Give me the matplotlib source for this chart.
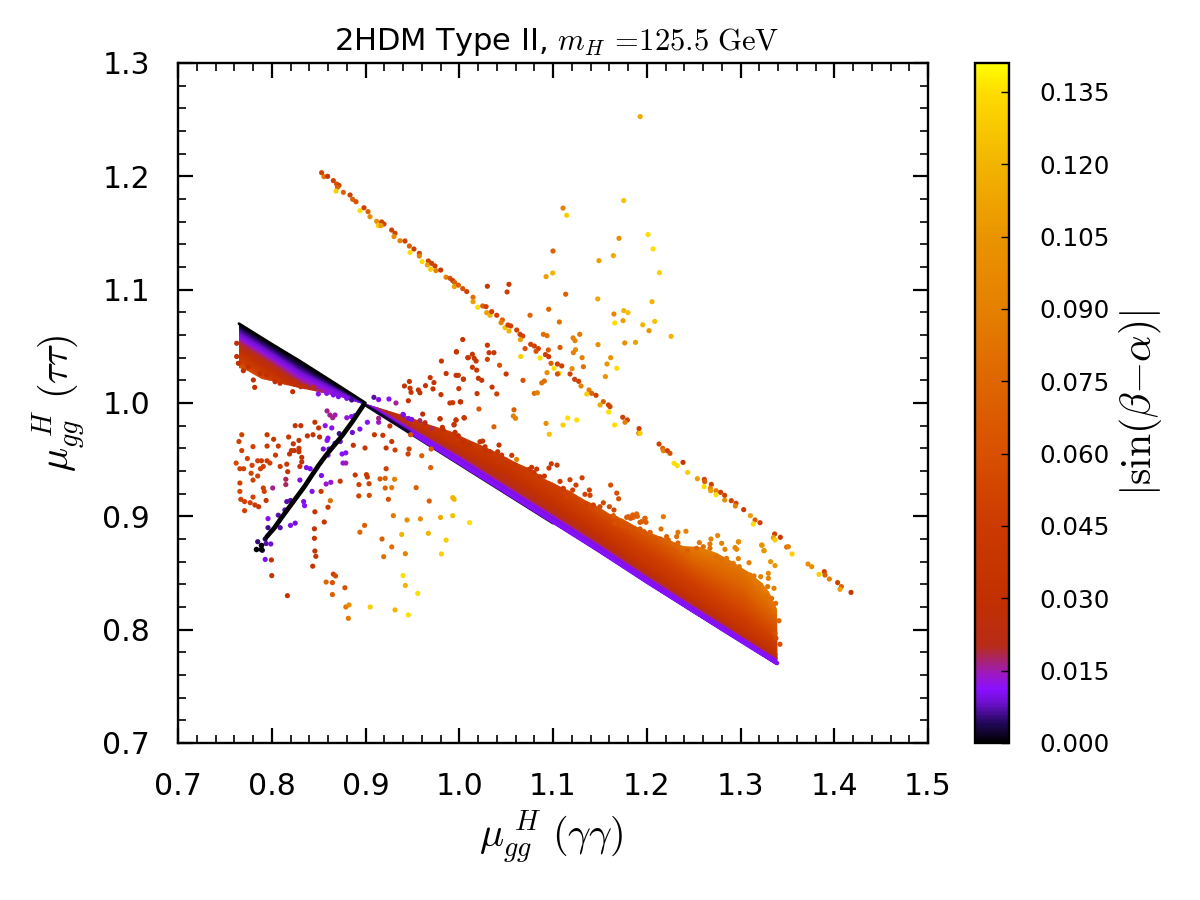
import numpy as np
import matplotlib
matplotlib.use("Agg")
import matplotlib.pyplot as plt
from matplotlib.colors import LinearSegmentedColormap, Normalize
from matplotlib.cm import ScalarMappable
from matplotlib.patches import Polygon
from matplotlib.ticker import MultipleLocator, FormatStrFormatter

plt.rcParams['mathtext.fontset'] = 'cm'

# colour scale of |sin(beta-alpha)|
s_max = 0.141
cmap_nodes = [0.0, 0.004, 0.008, 0.011, 0.014, 0.017, 0.02, 0.03, 0.045, 0.06,
              0.075, 0.09, 0.105, 0.12, 0.135, 0.141]
cmap_colors = ['#000000', '#22085a', '#6a10c8', '#8810ff', '#9c18c8', '#a82470',
               '#b82c18', '#c23000', '#cc3a00', '#d85000', '#de6600', '#e58000',
               '#ea9400', '#f2b400', '#fedc00', '#ffff00']

# the dense band, right of the crossing: offset above the s=0 line per level
band_levels = [0.0, 0.004, 0.008, 0.012, 0.016, 0.02, 0.03, 0.05, 0.07, 0.09]
right_x = [0.90, 0.95, 1.00, 1.05, 1.10, 1.15, 1.20, 1.25, 1.30, 1.339]
right_y0 = [0.998, 0.972, 0.946, 0.920, 0.894, 0.868, 0.841, 0.815, 0.789, 0.769]
right_offsets = [
    [0.0, 0.001, 0.002, 0.003, 0.004, 0.005, 0.008, 0.012, 0.018, 0.025],
    [0.0, 0.0015, 0.003, 0.0045, 0.0055, 0.0065, 0.010, 0.020, 0.030, 0.040],
    [0.0, 0.0015, 0.003, 0.006, 0.0075, 0.0085, 0.014, 0.035, 0.050, 0.065],
    [0.0, 0.0015, 0.003, 0.006, 0.0075, 0.0085, 0.018, 0.038, 0.055, 0.070],
    [0.0, 0.0012, 0.003, 0.006, 0.0075, 0.0085, 0.016, 0.036, 0.050, 0.070],
    [0.0, 0.001, 0.002, 0.006, 0.007, 0.008, 0.014, 0.030, 0.045, 0.065],
    [0.0, 0.0005, 0.0015, 0.0055, 0.0065, 0.0075, 0.012, 0.030, 0.048, 0.065],
    [0.0, 0.0002, 0.0007, 0.005, 0.006, 0.007, 0.011, 0.028, 0.044, 0.060],
    [0.0, 0.0002, 0.0007, 0.005, 0.006, 0.0065, 0.010, 0.027, 0.048, 0.075],
    [0.0, 0.0002, 0.0007, 0.005, 0.0055, 0.006, 0.009, 0.022, 0.038, 0.055],
]
# upper limit of the solid part of the band
top_x = [0.90, 0.95, 0.9724, 0.9901, 1.008, 1.0257, 1.0435, 1.0612, 1.079, 1.0897, 1.1039, 1.1181,
         1.1324, 1.1466, 1.1608, 1.175, 1.1892, 1.2034, 1.2212, 1.239, 1.2568, 1.2745, 1.2923,
         1.31, 1.3279, 1.3385, 1.3403]
top_y = [0.999, 0.987, 0.980, 0.975, 0.968, 0.962, 0.955, 0.947, 0.941, 0.934, 0.928, 0.922,
         0.915, 0.909, 0.902, 0.898, 0.891, 0.885, 0.880, 0.874, 0.873, 0.868, 0.860,
         0.850, 0.838, 0.818, 0.776]

# same band left of the crossing: offset below the s=0 line per level
left_x = [0.765, 0.80, 0.83, 0.87, 0.90]
left_y0 = [1.070, 1.052, 1.037, 1.016, 1.000]
left_offsets = [
    [0.0, 0.004, 0.008, 0.012, 0.015, 0.018, 0.024, 0.034, 0.040, 0.050],
    [0.0, 0.004, 0.008, 0.012, 0.015, 0.018, 0.024, 0.034, 0.040, 0.050],
    [0.0, 0.005, 0.009, 0.013, 0.017, 0.020, 0.026, 0.034, 0.040, 0.050],
    [0.0, 0.003, 0.005, 0.008, 0.012, 0.015, 0.020, 0.030, 0.040, 0.050],
    [0.0, 0.001, 0.002, 0.003, 0.004, 0.005, 0.008, 0.012, 0.018, 0.025],
]
bottom_x = [0.765, 0.775, 0.79, 0.80, 0.815, 0.83, 0.85, 0.87, 0.90]
bottom_y = [1.031, 1.028, 1.021, 1.019, 1.016, 1.013, 1.010, 1.006, 0.998]

# (mu gamma gamma, mu tau tau, |sin|)
diag_pts = [
    (.8532,1.2032,.05),(.8557,1.1997,.085),(.8596,1.20,.04),(.8657,1.1962,.05),(.8692,1.1932,.06),
    (.8717,1.192,.05),(.87,1.1903,.07),(.8685,1.187,.13),(.8764,1.1859,.07),(.8835,1.1835,.05),
    (.8863,1.1797,.07),(.8899,1.1776,.06),(.8941,1.1697,.135),(.8984,1.1723,.05),(.9027,1.1688,.07),
    (.9048,1.1644,.1),(.9119,1.1603,.1),(.9137,1.1565,.13),(.9172,1.1597,.05),(.9197,1.1579,.05),
    (.9165,1.1565,.11),(.9279,1.1526,.05),(.9315,1.1497,.05),(.9304,1.1468,.1),(.9368,1.1432,.09),
    (.9421,1.1429,.05),(.9468,1.1385,.07),(.9517,1.1359,.05),(.9475,1.1329,.135),(.9574,1.132,.05),
    (.9574,1.1297,.09),(.9603,1.1247,.135),(.967,1.1253,.05),(.966,1.1218,.11),(.9706,1.1232,.05),
    (.9741,1.1209,.05),(.9695,1.118,.13),(.9752,1.1168,.09),(.9802,1.1173,.04),(.9859,1.111,.09),
    (.9902,1.110,.06),(.993,1.108,.05),(.9951,1.1062,.07),(.9948,1.1027,.11),(.9991,1.104,.07),
    (1.0037,1.1009,.06),(1.008,1.0983,.05),(1.0147,1.0933,.08),(1.0147,1.0894,.11),(1.0197,1.0844,.135),
    (1.025,1.0856,.07),(1.0286,1.085,.05),(1.0293,1.0797,.11),(1.0328,1.0774,.12),(1.0346,1.0806,.05),
    (1.04,1.0774,.05),(1.046,1.0733,.07),(1.0446,1.0709,.09),(1.0488,1.0665,.125),(1.052,1.0688,.05),
    (1.0549,1.068,.05),(1.0531,1.0635,.12),(1.0613,1.0644,.05),(1.0648,1.0606,.05),(1.0677,1.0591,.05),
    (1.0652,1.0559,.11),(1.0762,1.0518,.05),(1.0801,1.0503,.05),(1.0702,1.048,.06),(1.0844,1.048,.05),
    (1.0819,1.0456,.06),(1.0919,1.0427,.05),(1.0954,1.0409,.045),(1.0862,1.0397,.135),(1.0979,1.035,.07),
    (1.1047,1.0344,.05),(1.1093,1.0327,.05),(1.1011,1.0306,.135),(1.1064,1.0262,.13),(1.1047,1.0256,.06),
    (1.1182,1.0256,.05),(1.1231,1.0209,.05),(1.1274,1.0191,.05),(1.1299,1.015,.09),(1.1384,1.0115,.09),
    (1.136,1.0079,.13),(1.1413,1.0085,.07),(1.1459,1.0068,.05),(1.1537,1.0012,.07),(1.1502,.9983,.115),
    (1.1591,.9983,.05),(1.1608,.9968,.05),(1.1594,.9921,.135),(1.1744,.9874,.05),(1.1793,.985,.05),
    (1.1768,.983,.09),(1.1918,.9774,.05),(1.1914,.9733,.09),(1.1928,.9732,.13),(1.2131,.9638,.05),
    (1.217,.96,.07),(1.2177,.9579,.09),(1.222,.9579,.05),(1.2248,.9556,.06),(1.2291,.9468,.135),
    (1.2326,.9447,.135),(1.2387,.9476,.04),(1.2436,.9388,.13),(1.254,.9332,.11),(1.2614,.9326,.05),
    (1.2618,.9306,.07),(1.2611,.9262,.135),(1.2689,.9282,.05),(1.2678,.9247,.09),(1.2682,.9226,.11),
    (1.2739,.9226,.09),(1.2739,.9191,.135),(1.2788,.9212,.05),(1.2831,.9185,.05),(1.2831,.9144,.1),
    (1.2902,.9138,.05),(1.2952,.9115,.05),(1.2945,.9091,.09),(1.3034,.9059,.045),(1.3105,.9006,.11),
    (1.3155,.8968,.07),(1.3208,.8944,.05),(1.3137,.8932,.135),(1.3364,.8844,.05),(1.3425,.8815,.04),
    (1.335,.8812,.11),(1.3368,.8791,.13),(1.3492,.8729,.08),(1.351,.8732,.09),(1.355,.8668,.13),
    (1.372,.8579,.1),(1.376,.8556,.1),(1.3837,.8488,.13),(1.3894,.8512,.05),(1.3901,.8482,.07),
    (1.3948,.8447,.09),(1.4036,.8415,.05),(1.4076,.838,.07),(1.4061,.8356,.11),(1.4179,.8329,.04),
]

left_cloud = [
    (.768,.972,.05),(.765,.966,.05),(.780,.9615,.05),(.795,.972,.04),(.802,.968,.04),(.818,.970,.04),
    (.825,.980,.035),(.831,.980,.035),(.823,.964,.035),(.829,.967,.035),(.838,.971,.035),(.844,.972,.035),
    (.846,.983,.035),(.850,.978,.035),(.851,.970,.03),(.795,.962,.045),(.807,.962,.045),(.768,.958,.05),
    (.774,.951,.05),(.804,.954,.045),(.789,.949,.045),(.795,.949,.045),(.798,.947,.05),(.785,.949,.05),
    (.779,.945,.05),(.762,.947,.055),(.766,.942,.05),(.770,.942,.05),(.788,.942,.05),(.791,.944,.05),
    (.809,.944,.045),(.816,.946,.04),(.817,.9394,.035),(.830,.944,.035),(.778,.938,.05),(.785,.9356,.05),
    (.780,.932,.05),(.766,.9294,.05),(.791,.925,.05),(.792,.922,.05),(.766,.922,.055),(.780,.917,.05),
    (.767,.915,.05),(.771,.913,.05),(.777,.912,.05),(.782,.910,.045),(.786,.9085,.04),(.794,.914,.04),
    (.771,.905,.05),(.821,.958,.035),(.819,.955,.035),(.829,.960,.035),(.829,.957,.035),(.824,.958,.035),
    (.832,.952,.035),(.832,.948,.035),
]

purple_cloud = [
    (.859,.993,.016),(.862,.9894,.016),(.8675,.9894,.015),(.865,.987,.016),(.857,.980,.012),(.864,.978,.011),
    (.860,.969,.011),(.859,.967,.011),(.880,.987,.013),(.885,.988,.011),(.889,.989,.011),(.886,.974,.008),
    (.894,.977,.010),(.902,.983,.011),(.914,.983,.014),(.914,.9865,.016),(.872,.973,.006),(.873,.966,.008),
    (.8675,.9644,.008),(.855,.9594,.009),(.861,.9594,.009),(.860,.954,.010),(.875,.955,.011),(.879,.956,.011),
    (.876,.947,.013),(.879,.947,.015),(.815,.9327,.018),(.815,.928,.018),(.801,.925,.016),(.830,.932,.01),
    (.837,.943,.010),(.841,.942,.010),(.853,.936,.010),(.858,.9285,.014),(.863,.930,.013),(.843,.922,.010),
    (.834,.913,.010),(.835,.9094,.011),(.816,.913,.007),(.820,.914,.007),(.796,.898,.011),(.807,.901,.007),
    (.814,.9056,.007),(.809,.890,.007),(.820,.892,.010),(.825,.894,.009),(.796,.890,.006),(.793,.880,.004),
    (.785,.8776,.005),(.794,.876,.007),(.799,.8756,.009),(.793,.862,.010),(.790,.870,.004),(.909,1.005,.007),
    (.914,1.003,.010),(.925,1.0035,.011),(.9325,1.0,.016),(.940,.990,.011),(.9404,.9894,.010),(.9457,.9864,.010),
    (.9492,.9855,.010),(.958,.9844,.018),(.9635,.9826,.02),(.9706,.9776,.018),
]

scatter_pts = [
    (.846,.904,.035),(.860,.908,.04),(.856,.895,.035),(.8455,.889,.035),(.8455,.8806,.035),(.846,.8694,.035),
    (.847,.8647,.04),(.8437,.856,.035),(.800,.8477,.035),(.7996,.8615,.03),(.8167,.830,.035),(.8657,.849,.05),
    (.868,.8474,.055),(.858,.842,.075),(.8647,.8415,.06),(.878,.837,.06),(.8647,.831,.07),(.879,.820,.085),
    (.8824,.8218,.1),(.8817,.81,.085),(.905,.820,.13),(.9315,.8174,.12),(.9457,.813,.135),(.9557,.832,.135),
    (.9425,.839,.12),(.940,.8477,.135),(.9194,.8644,.08),(.928,.873,.08),(.9425,.867,.09),(.981,.8668,.13),
    (.986,.879,.13),(.967,.885,.12),(.9386,.884,.12),(.9176,.880,.07),(.894,.886,.075),(.899,.892,.07),
    (.9297,.9006,.085),(.9443,.8968,.1),(.9585,.8977,.1),(.98,.899,.115),(.993,.9006,.125),(1.011,.8944,.135),
    (.968,.9135,.07),(.9244,.915,.06),(.904,.9185,.055),(.8928,.918,.05),(.8625,.9138,.08),(.921,.925,.07),
    (.928,.9253,.085),(.954,.9253,.07),(.993,.9165,.12),(.9945,.915,.12),(.9155,.933,.065),(.921,.9335,.07),
    (.931,.9327,.09),(.9038,.9288,.05),(.893,.928,.05),(.889,.9365,.04),(.901,.9368,.045),(.902,.9347,.04),
    (.873,.931,.04),(.922,.942,.05),(.9695,.943,.07),(.8526,.922,.04),(.887,.9627,.035),(.8995,.9603,.04),
    (.9095,.972,.04),(.9185,.9715,.04),(.922,.9603,.04),(.928,.966,.04),(.9315,.9585,.05),(.9454,.955,.05),
    (.9465,.9594,.05),(.960,.9535,.07),(.970,.9594,.07),(.926,.9797,.04),(.948,.972,.06),
    (.9468,1.019,.035),(.9415,1.015,.035),(.9475,1.013,.035),(.9486,1.0094,.035),(.9564,1.0115,.035),
    (.958,1.009,.035),(.964,1.0153,.035),(.969,1.0224,.035),(.973,1.018,.035),(.972,1.0124,.035),
    (.981,1.037,.04),(.997,1.045,.035),(1.0037,1.056,.035),(1.009,1.040,.04),(.986,1.026,.035),
    (.9966,1.0244,.04),(.999,1.0244,.04),(1.0044,1.021,.04),(.9995,1.0127,.04),(.9805,1.0074,.035),
    (.9457,1.002,.035),(.990,1.0,.04),(.993,1.0003,.04),(1.001,1.001,.035),(.9795,.986,.04),(.9966,.985,.035),
    (1.005,.987,.04),(.9945,.9806,.035),
    (1.193,1.2527,.115),(1.1754,1.1786,.125),(1.1107,1.172,.09),(1.1146,1.1656,.13),(1.1704,1.1453,.1),
    (1.2014,1.1486,.135),(1.2067,1.136,.135),(1.1644,1.130,.115),(1.149,1.1256,.11),(1.100,1.1341,.07),
    (1.0997,1.1147,.12),(1.0926,1.1115,.11),(1.2135,1.115,.13),(1.053,1.1047,.045),(1.030,1.103,.04),
    (1.051,1.098,.05),(1.1135,1.096,.07),(1.1477,1.0918,.115),(1.2056,1.0894,.12),(1.0954,1.0827,.075),
    (1.1754,1.0815,.12),(1.180,1.0797,.125),(1.165,1.0785,.095),(1.1658,1.0706,.135),(1.1747,1.0727,.11),
    (1.2085,1.072,.125),(1.0755,1.0774,.075),(1.1068,1.0715,.08),(1.1957,1.069,.12),(1.2024,1.0638,.105),
    (1.226,1.0588,.12),(1.1285,1.0606,.085),(1.1214,1.0574,.09),(1.1235,1.055,.09),(1.0897,1.0606,.08),
    (1.0936,1.0594,.08),(1.1765,1.053,.1),(1.188,1.0535,.11),(1.148,1.0515,.1),(1.1075,1.049,.065),
    (1.124,1.047,.1),(1.1217,1.0444,.09),(1.095,1.0468,.065),(1.1615,1.040,.105),(1.131,1.040,.09),
    (1.0656,1.041,.13),(1.1576,1.0344,.105),(1.1324,1.032,.08),(1.168,1.0306,.135),(1.1203,1.0303,.1),
    (1.0936,1.0268,.1),(1.1559,1.0233,.105),(1.068,1.020,.06),(1.0908,1.0194,.08),(1.088,1.0177,.08),
    (1.080,1.0085,.08),(1.0833,1.009,.09),(1.1157,.9868,.135),(1.1253,.985,.135),(1.1107,.9806,.13),
    (1.0926,.982,.1),(1.096,.9724,.125),(1.1658,.9806,.135),(1.0584,.994,.07),(1.0577,.9885,.09),
    (1.06,.9865,.09),(1.037,.979,.07),(1.021,.9947,.065),(1.0055,.9868,.04),(1.0015,1.001,.03),
    (1.040,1.008,.05),(1.019,1.0083,.04),(1.035,1.014,.04),(1.0204,1.0218,.04),(1.024,1.020,.04),
    (1.050,1.0256,.04),(1.0044,1.021,.04),(1.014,1.0315,.04),(1.0186,1.029,.04),(1.043,1.0333,.06),
    (1.030,1.0385,.05),(1.0097,1.040,.04),(1.014,1.043,.04),(1.016,1.0394,.04),(1.018,1.037,.04),
    (.997,1.0453,.04),(1.0318,1.0444,.04),(1.037,1.0444,.04),(1.030,1.051,.04),
    (1.323,.8744,.1),(1.3251,.8697,.11),(1.298,.8776,.1),
    (1.1615,.9276,.06),(1.168,.9205,.06),(1.17,.9155,.06),
]

# loose points on the top of the dense band
band_edge = [
    (.961,.9902,.025),(.9795,.9861,.035),(.9965,.985,.035),(.9944,.9811,.035),(.982,.9785,.03),(.983,.9761,.03),
    (.9955,.9741,.03),(.999,.9711,.03),(1.0044,.9658,.03),(1.0108,.9629,.03),(1.0221,.9658,.035),(1.025,.9664,.035),
    (1.0275,.9614,.035),(1.0275,.9585,.035),(1.0424,.9629,.035),(1.0328,.957,.035),(1.041,.957,.04),(1.0452,.954,.04),
    (1.056,.9538,.04),(1.0612,.9502,.09),(1.0417,.9482,.04),(1.0524,.9467,.04),(1.0595,.9452,.04),(1.0772,.9432,.04),
    (1.0744,.9414,.04),(1.0826,.9417,.04),(1.0797,.9385,.04),(1.0982,.9464,.045),(1.1043,.9452,.045),(1.0957,.9426,.045),
    (1.0908,.9355,.04),(1.0861,.935,.04),(1.131,.934,.05),(1.1181,.9323,.05),(1.1075,.9308,.045),(1.1245,.9276,.05),
    (1.121,.9232,.05),(1.111,.9247,.045),(1.1021,.9247,.045),(1.0968,.9261,.045),(1.1388,.9232,.05),(1.1395,.9185,.05),
    (1.1341,.9194,.05),(1.1245,.9158,.05),(1.1146,.9173,.05),(1.1537,.912,.055),(1.1601,.9085,.055),(1.165,.9056,.055),
    (1.1501,.9085,.055),(1.143,.91,.05),(1.1359,.9108,.05),(1.19,.9,.07),(1.1857,.8991,.07),(1.1786,.8991,.065),
    (1.1828,.8982,.065),(1.1981,.8982,.07),(1.1992,.8947,.07),(1.1928,.8947,.065),(1.1672,.8982,.06),(1.1732,.8923,.06),
    (1.2035,.8858,.07),(1.1928,.8888,.065),
    (1.2177,.8997,.085),(1.1892,.9021,.075),(1.185,.9012,.07),(1.1803,.8997,.07),(1.1981,.8982,.075),(1.1945,.8953,.07),
    (1.1643,.9006,.065),(1.1661,.8938,.06),(1.1732,.8924,.06),(1.1768,.8909,.06),(1.1839,.8894,.06),(1.1928,.8885,.065),
    (1.197,.8865,.065),(1.2034,.8856,.07),(1.2152,.8888,.08),(1.2418,.8868,.09),(1.2333,.8859,.085),(1.2319,.8821,.08),
    (1.2212,.8821,.07),(1.2141,.88,.065),(1.223,.8791,.07),(1.2333,.8765,.075),(1.2756,.883,.095),(1.2685,.88,.09),
    (1.2799,.8762,.09),(1.2674,.8756,.085),(1.2561,.8768,.085),(1.2603,.8732,.08),(1.2532,.8718,.075),(1.2433,.8697,.07),
    (1.2265,.8703,.065),(1.2301,.8688,.065),(1.2674,.8718,.08),(1.2834,.8709,.09),(1.2941,.8724,.095),(1.2977,.8774,.1),
    (1.2959,.8709,.095),(1.3225,.8747,.105),(1.325,.8697,.105),(1.2852,.8629,.085),(1.2799,.8615,.08),(1.2745,.8644,.08),
    (1.2977,.8627,.09),(1.3091,.8591,.09),(1.3321,.86,.105),(1.3368,.8565,.105),(1.2923,.8585,.085),(1.2987,.8556,.085),
    (1.3101,.8482,.085),(1.3144,.8474,.085),(1.3297,.8497,.095),(1.3297,.8453,.09),(1.3215,.8468,.09),(1.3161,.8409,.085),
    (1.3215,.8394,.085),(1.329,.838,.085),(1.3357,.8365,.09),(1.3279,.8291,.08),(1.3332,.8276,.08),(1.3375,.8232,.08),
    (1.341,.8079,.075),(1.335,.8115,.07),(1.3368,.7968,.06),(1.3421,.7871,.06),(1.3378,.7924,.055),
]

left_edge = [
    (.7644,1.035,.03),(.7626,1.041,.03),(.7626,1.0527,.025),(.7697,1.0285,.03),(.775,1.032,.03),(.7804,1.0203,.03),
    (.7818,1.0138,.03),(.7875,1.0262,.03),(.7946,1.0247,.03),(.8035,1.0188,.03),(.8088,1.0174,.03),(.816,1.0203,.03),
    (.8223,1.01,.03),(.8248,1.0188,.028),(.8309,1.0144,.028),(.8355,1.0144,.025),(.8444,1.0138,.02),(.8497,1.008,.012),
    (.8586,1.0085,.012),(.8657,1.0071,.01),(.8711,1.0056,.01),(.88,1.0041,.01),(.8853,1.0027,.006),
]

# the s~0 branch running down to the lower left
black_x = [.7946, .803, .8106, .8195, .8284, .8355, .8426, .85, .858, .866, .875, .8864, .8977]
black_y = [.882, .890, .899, .909, .919, .927, .936, .945, .954, .962, .971, .984, .998]
black_tail_x = [.783, .788, .788]
black_tail_y = [.871, .871, .875]

colorbar_ticks = [0.0, 0.015, 0.03, 0.045, 0.06, 0.075, 0.09, 0.105, 0.12, 0.135]

cmap = LinearSegmentedColormap.from_list(
    'sinba', [(v / s_max, c) for v, c in zip(cmap_nodes, cmap_colors)], N=512)
norm = Normalize(0, s_max)

fig = plt.figure(figsize=(12, 9), dpi=100)
ax = fig.add_axes([178 / 1200, 157 / 900, 750 / 1200, 680 / 900])


def draw_band(xs, y0, offsets, sign, edge_x, edge_y):
    off = np.array(offsets).T
    X = np.tile(xs, (len(band_levels), 1))
    Y = np.array(y0) + sign * off
    C = np.tile(np.array(band_levels)[:, None], (1, len(xs)))
    mesh = ax.pcolormesh(X, Y, C, shading='gouraud', cmap=cmap, norm=norm, zorder=1)
    verts = list(zip(xs, np.array(y0) - sign * 0.001)) + list(zip(edge_x[::-1], edge_y[::-1]))
    mesh.set_clip_path(Polygon(verts, transform=ax.transData))


draw_band(right_x, right_y0, right_offsets, 1, top_x, top_y)
draw_band(left_x, left_y0, left_offsets, -1, bottom_x, bottom_y)

# the overplotted points along the s=0 line are a few pixels thick
ax.plot(left_x, left_y0, color='black', lw=2, solid_capstyle='round', zorder=2)
ax.plot(right_x[:5], right_y0[:5], color='#14052e', lw=2, solid_capstyle='round', zorder=2)
ax.plot(right_x[1:], np.array(right_y0[1:]) + 0.0015, color=cmap(norm(0.011)), lw=3.2,
        solid_capstyle='round', zorder=2)

for group in [left_cloud, scatter_pts, purple_cloud, diag_pts, band_edge, left_edge]:
    gx, gy, gs = np.array(group).T
    ax.scatter(gx, gy, c=gs, s=14, cmap=cmap, norm=norm, linewidths=0, zorder=3)
ax.plot(black_x, black_y, color='black', lw=3.4, solid_capstyle='round', zorder=4)
ax.scatter(black_tail_x, black_tail_y, color='black', s=16, linewidths=0, zorder=4)

ax.set_xlim(0.7, 1.5)
ax.set_ylim(0.7, 1.3)
ax.xaxis.set_major_locator(MultipleLocator(0.1))
ax.xaxis.set_minor_locator(MultipleLocator(0.02))
ax.yaxis.set_major_locator(MultipleLocator(0.1))
ax.yaxis.set_minor_locator(MultipleLocator(0.02))
ax.xaxis.set_major_formatter(FormatStrFormatter('%.1f'))
ax.yaxis.set_major_formatter(FormatStrFormatter('%.1f'))
ax.tick_params(which='both', direction='in', top=True, right=True)
ax.tick_params(which='major', length=10.5, width=1.6, labelsize=21.5)
ax.tick_params(which='minor', length=6, width=1.2)
ax.tick_params(axis='x', which='major', pad=21)
ax.tick_params(axis='y', which='major', pad=20)
for sp in ax.spines.values():
    sp.set_linewidth(1.7)

cax = fig.add_axes([975 / 1200, 157 / 900, 34 / 1200, 680 / 900])
cb = fig.colorbar(ScalarMappable(norm=norm, cmap=cmap), cax=cax)
cb.set_ticks(colorbar_ticks)
cb.ax.yaxis.set_major_formatter(FormatStrFormatter('%.3f'))
cb.ax.tick_params(direction='in', length=6, width=1, labelsize=17.7, pad=22, right=True, left=False)
cb.outline.set_linewidth(1.7)

fig.text(557 / 1200, 1 - 42 / 900, r'2HDM Type II, $m_H\,=\!125.5\ \mathrm{GeV}$',
         ha='center', va='center', fontsize=22)
fig.text(551 / 1200, 1 - 838 / 900, r'$\mu_{gg}^{\ H}\ (\gamma\gamma)$',
         ha='center', va='center', fontsize=29)
fig.text(60 / 1200, 1 - 403 / 900, r'$\mu_{gg}^{\ H}\ (\tau\tau)$',
         ha='center', va='center', rotation=90, fontsize=29)
fig.text(1141 / 1200, 1 - 403 / 900, r'$|\sin(\beta{-}\alpha)|$',
         ha='center', va='center', rotation=90, fontsize=30)

fig.savefig('out.png', dpi=100)
